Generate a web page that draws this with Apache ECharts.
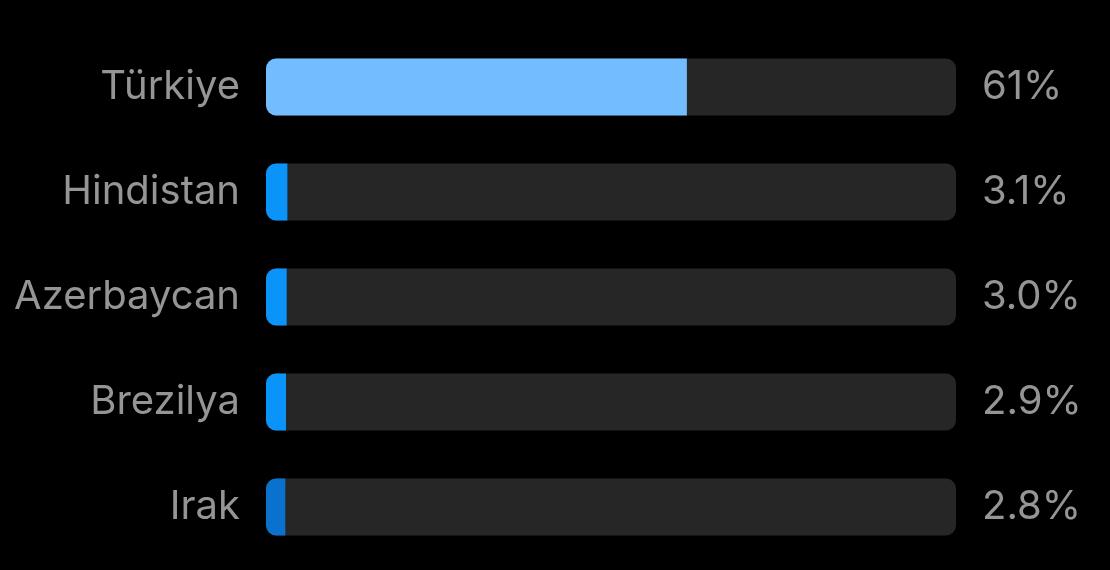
<!DOCTYPE html>
<html><head><meta charset="utf-8">
<script src="https://cdn.jsdelivr.net/npm/echarts@6/dist/echarts.min.js"></script>
<style>html,body{margin:0;padding:0;background:#000;}#c{width:1110px;height:570px;}</style>
</head><body><div id="c"></div>
<script>
const categories = ['Türkiye', 'Hindistan', 'Azerbaycan', 'Brezilya', 'Irak'];
const values = [61, 3.1, 3.0, 2.9, 2.8];
const valueLabels = ['61%', '3.1%', '3.0%', '2.9%', '2.8%'];
const barColors = ['#72BCFF', '#0A93F8', '#0A93F8', '#0A93F8', '#0A72CC'];

const chart = echarts.init(document.getElementById('c'));
const font = 'Inter, Roboto, sans-serif';
chart.setOption({
  backgroundColor: '#000',
  animation: false,
  grid: { left: 266, right: 154, top: 34.5, bottom: 10.5 },
  xAxis: { type: 'value', min: 0, max: 100, show: false },
  yAxis: [
    { type: 'category', data: categories, inverse: true,
      axisLine: { show: false }, axisTick: { show: false },
      axisLabel: { color: '#959595', fontSize: 40, fontFamily: font, margin: 26, padding: [5, 0, 0, 0] } },
    { type: 'category', data: valueLabels, inverse: true, position: 'right',
      axisLine: { show: false }, axisTick: { show: false },
      axisLabel: { color: '#959595', fontSize: 40, fontFamily: font, margin: 26, align: 'left', padding: [5, 0, 0, 0] } }
  ],
  series: [{
    type: 'bar', barWidth: 57,
    showBackground: true,
    backgroundStyle: { color: '#262626', borderRadius: 10 },
    data: values.map((v, i) => ({ value: v, itemStyle: { color: barColors[i], borderRadius: [10, 0, 0, 10] } }))
  }]
});
</script></body></html>
